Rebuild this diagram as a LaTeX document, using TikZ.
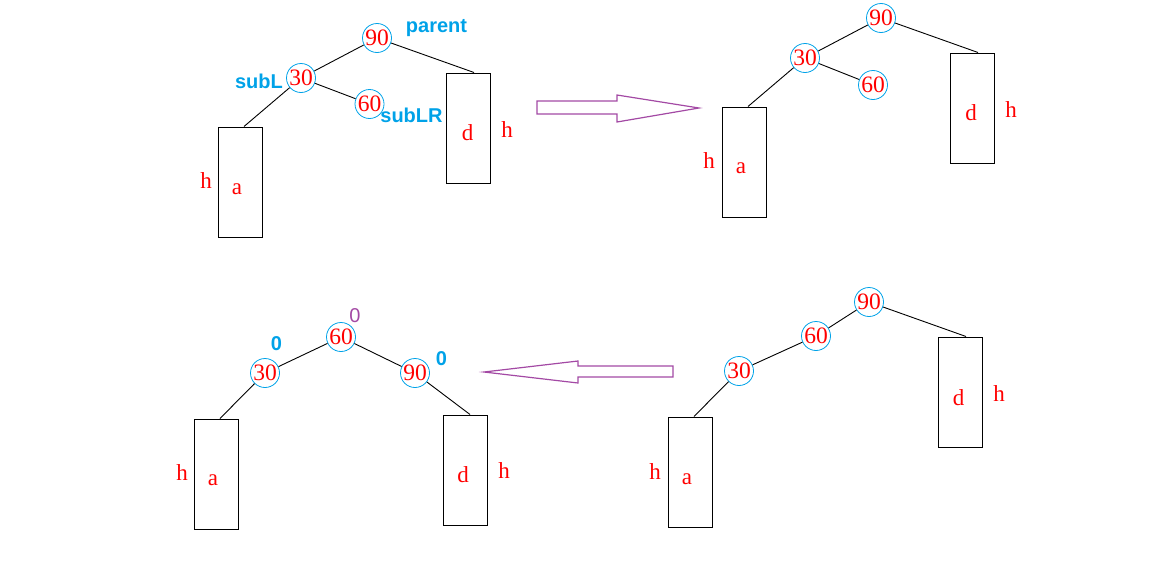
\documentclass[tikz,border=0pt]{standalone}
\usepackage{fontspec}
\setmainfont{Liberation Serif}
\newfontfamily\lsans{Liberation Sans}
\definecolor{myblue}{RGB}{0,162,232}
\definecolor{myred}{RGB}{255,0,0}
\definecolor{mypurple}{RGB}{163,73,164}
\begin{document}
\begin{tikzpicture}[x=1pt,y=-1pt,
  circ/.style={circle,draw=myblue,line width=0.8pt,minimum size=29pt,inner sep=0pt,text=myred,font=\fontsize{23.5}{23.5}\selectfont},
  box/.style={draw=black,line width=1pt,minimum width=44pt,minimum height=110pt,inner sep=0pt},
  lett/.style={text=myred,font=\fontsize{23}{23}\selectfont,anchor=base,inner sep=0pt},
  blab/.style={text=myblue,font=\lsans\bfseries\fontsize{20}{20}\selectfont,anchor=base,inner sep=0pt},
  plab/.style={text=mypurple,font=\lsans\fontsize{20}{20}\selectfont,anchor=base,inner sep=0pt},
  edge/.style={draw=black,line width=0.9pt},
  bigarrow/.style={draw=mypurple,line width=1.2pt}]
\useasboundingbox (0,0) rectangle (1159,565);
% ---------- Panel 1 ----------
\node[circ] (a90) at (377,38) {90};
\node[circ] (a30) at (301,78) {30};
\node[circ] (a60) at (369.5,104) {60};
\node[box] (aboxa) at (240,182) {};
\node[box] (aboxd) at (468,128) {};
\node[lett] (ah1) at (206,188) {h};
\node[lett] (ala) at (237,194) {a};
\node[lett] (ald) at (467.5,140) {d};
\node[lett] (ah2) at (507,137) {h};
\node[blab] (aparent) at (436.5,32) {parent};
\node[blab] (asubL) at (259,88) {subL};
\node[blab] (asubLR) at (411.5,122) {subLR};
\draw[edge] (a90) -- (a30);
\draw[edge] (a90) -- ([xshift=6pt]aboxd.north);
\draw[edge] (a30) -- ([xshift=4pt]aboxa.north);
\draw[edge] (a30) -- (a60);
% ---------- Arrow 1 ----------
\draw[bigarrow] (537,101) -- (617,101) -- (617,95) -- (699,108) -- (617,122) -- (617,114) -- (537,114) -- cycle;
% ---------- Panel 2 ----------
\node[circ] (b90) at (881,18) {90};
\node[circ] (b30) at (805,58) {30};
\node[circ] (b60) at (873,85) {60};
\node[box] (bboxa) at (744,162) {};
\node[box] (bboxd) at (972,108) {};
\node[lett] (bh1) at (709,168) {h};
\node[lett] (bla) at (741,173) {a};
\node[lett] (bld) at (971,120) {d};
\node[lett] (bh2) at (1011,117) {h};
\draw[edge] (b90) -- (b30);
\draw[edge] (b90) -- ([xshift=6pt]bboxd.north);
\draw[edge] (b30) -- ([xshift=4pt]bboxa.north);
\draw[edge] (b30) -- (b60);
% ---------- Panel 4 (bottom right) ----------
\node[circ] (d90) at (869,302) {90};
\node[circ] (d60) at (816,336) {60};
\node[circ] (d30) at (739,371) {30};
\node[box] (dboxa) at (690,472) {};
\node[box] (dboxd) at (960,392) {};
\node[lett] (dh1) at (655,479) {h};
\node[lett] (dla) at (687,484) {a};
\node[lett] (dld) at (958.5,405) {d};
\node[lett] (dh2) at (999,401) {h};
\draw[edge] (d90) -- (d60);
\draw[edge] (d60) -- (d30);
\draw[edge] (d30) -- ([xshift=4pt]dboxa.north);
\draw[edge] (d90) -- ([xshift=6pt]dboxd.north);
% ---------- Arrow 2 ----------
\draw[bigarrow] (673,366) -- (578,366) -- (578,361) -- (484,372) -- (578,383) -- (578,377) -- (673,377) -- cycle;
% ---------- Panel 3 (bottom left) ----------
\node[circ] (c60) at (341,337) {60};
\node[circ] (c30) at (265,373) {30};
\node[circ] (c90) at (415,373) {90};
\node[box] (cboxa) at (216,474) {};
\node[box] (cboxd) at (465,470) {};
\node[lett] (ch1) at (182,480) {h};
\node[lett] (cla) at (213,485) {a};
\node[lett] (cld) at (463,482) {d};
\node[lett] (ch2) at (504,478) {h};
\node[plab] (cz1) at (355,322) {0};
\node[blab] (cz2) at (276.5,350) {0};
\node[blab] (cz3) at (441.5,365) {0};
\draw[edge] (c60) -- (c30);
\draw[edge] (c60) -- (c90);
\draw[edge] (c30) -- ([xshift=4pt]cboxa.north);
\draw[edge] (c90) -- ([xshift=5pt]cboxd.north);
\end{tikzpicture}
\end{document}
